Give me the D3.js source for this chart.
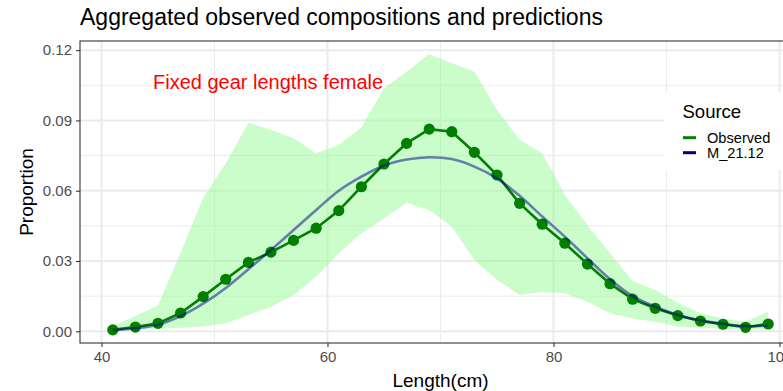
<!DOCTYPE html>
<html><head><meta charset="utf-8">
<script src="https://cdn.jsdelivr.net/npm/d3@7"></script>
<style>html,body{margin:0;padding:0;background:#fff;overflow:hidden}</style>
</head><body>
<script>
const lengths = [41,43,45,47,49,51,53,55,57,59,61,63,65,67,69,71,73,75,77,79,81,83,85,87,89,91,93,95,97,99];
const observed = [0.0006,0.0018,0.0034,0.0078,0.0148,0.0222,0.0294,0.0338,0.0388,0.0440,0.0515,0.0617,0.0714,0.0802,0.0863,0.0852,0.0764,0.0667,0.0546,0.0457,0.0376,0.0287,0.0203,0.0137,0.0098,0.0067,0.0044,0.0030,0.0017,0.0031];
const model = [0.0005,0.0013,0.0028,0.0065,0.0118,0.0185,0.0265,0.0347,0.0432,0.0518,0.0600,0.0660,0.0708,0.0733,0.0743,0.0735,0.0703,0.0653,0.0578,0.0490,0.0404,0.0312,0.0222,0.0150,0.0105,0.0070,0.0047,0.0032,0.0022,0.0025];
const upper = [0.0022,0.0065,0.0110,0.0335,0.0570,0.0717,0.0890,0.0860,0.0824,0.0760,0.0795,0.0871,0.1037,0.1108,0.1184,0.1144,0.1108,0.0945,0.0817,0.0760,0.0582,0.0454,0.0333,0.0215,0.0176,0.0122,0.0077,0.0055,0.0041,0.0084];
const lower = [0.0003,0.0007,0.0010,0.0015,0.0020,0.0034,0.0070,0.0105,0.0155,0.0233,0.0333,0.0418,0.0482,0.0549,0.0518,0.0446,0.0304,0.0219,0.0155,0.0169,0.0162,0.0126,0.0077,0.0055,0.0041,0.0020,0.0015,0.0012,0.0010,0.0010];
const xTicks = [40,60,80,100];
const xMinor = [50,70,90];
const yTicks = [0,0.03,0.06,0.09,0.12];
const yMinor = [0.015,0.045,0.075,0.105];
const legendItems = [{label:"Observed",color:"#007F00"},{label:"M_21.12",color:"#00008B"}];

const W=783,H=391;
const font = "'Liberation Sans', Arial, sans-serif";
const svg = d3.select("body").append("svg").attr("width",W).attr("height",H).style("font-family",font);
const L=80, R=801, T=41, B=343;
const x = d3.scaleLinear().domain([38.1,101.9]).range([L,R]);
const y = d3.scaleLinear().domain([-0.005,0.1239]).range([B,T]);

svg.append("rect").attr("x",L).attr("y",T).attr("width",R-L).attr("height",B-T).attr("fill","#fff");
const grid = svg.append("g");
grid.selectAll(".ym").data(yMinor).join("line").attr("x1",L).attr("x2",R).attr("y1",d=>y(d)).attr("y2",d=>y(d)).attr("stroke","#EBEBEB").attr("stroke-width",1);
grid.selectAll(".xm").data(xMinor).join("line").attr("y1",T).attr("y2",B).attr("x1",d=>x(d)).attr("x2",d=>x(d)).attr("stroke","#EBEBEB").attr("stroke-width",1);
grid.selectAll(".yM").data(yTicks).join("line").attr("x1",L).attr("x2",R).attr("y1",d=>y(d)).attr("y2",d=>y(d)).attr("stroke","#EBEBEB").attr("stroke-width",2);
grid.selectAll(".xM").data(xTicks).join("line").attr("y1",T).attr("y2",B).attr("x1",d=>x(d)).attr("x2",d=>x(d)).attr("stroke","#EBEBEB").attr("stroke-width",2);

const idx = d3.range(lengths.length);
svg.append("path").datum(idx)
  .attr("d", d3.area().x(i=>x(lengths[i])).y0(i=>y(lower[i])).y1(i=>y(upper[i])))
  .attr("fill","#98FB98").attr("fill-opacity",0.5);

svg.append("path").datum(idx)
  .attr("d", d3.line().x(i=>x(lengths[i])).y(i=>y(observed[i])))
  .attr("fill","none").attr("stroke","#007F00").attr("stroke-width",2.6);
svg.append("g").selectAll("circle").data(idx).join("circle")
  .attr("cx",i=>x(lengths[i])).attr("cy",i=>y(observed[i])).attr("r",5.6).attr("fill","#007F00");

svg.append("path").datum(idx)
  .attr("d", d3.line().curve(d3.curveCatmullRom).x(i=>x(lengths[i])).y(i=>y(model[i])))
  .attr("fill","none").attr("stroke","#00008B").attr("stroke-opacity",0.5).attr("stroke-width",2.6);

svg.append("text").attr("x",153).attr("y",89).attr("fill","#FF0000").attr("font-size",20).text("Fixed gear lengths female");

// panel border
svg.append("rect").attr("x",L).attr("y",T).attr("width",R-L).attr("height",B-T).attr("fill","none").attr("stroke","#333333").attr("stroke-width",1.1);

// axes
const xa = svg.append("g").attr("transform",`translate(0,${B})`)
  .call(d3.axisBottom(x).tickValues(xTicks).tickSize(4).tickPadding(4).tickFormat(d3.format("d")));
const ya = svg.append("g").attr("transform",`translate(${L},0)`)
  .call(d3.axisLeft(y).tickValues(yTicks).tickSize(4).tickPadding(4).tickFormat(d3.format(".2f")));
[xa,ya].forEach(a=>{
  a.select(".domain").remove();
  a.selectAll(".tick line").attr("stroke","#333333").attr("stroke-width",1.1);
  a.selectAll(".tick text").attr("fill","#4D4D4D").attr("font-size",15).attr("font-family",font);
});

svg.append("text").attr("x",80).attr("y",25).attr("font-size",23).attr("fill","#000").text("Aggregated observed compositions and predictions");
svg.append("text").attr("transform",`translate(33,${(T+B)/2}) rotate(-90)`).attr("text-anchor","middle").attr("font-size",19).attr("fill","#000").text("Proportion");
svg.append("text").attr("x",(L+R)/2).attr("y",387).attr("text-anchor","middle").attr("font-size",19).attr("fill","#000").text("Length(cm)");

// legend
const lg = svg.append("g");
lg.append("rect").attr("x",664).attr("y",92).attr("width",140).attr("height",78).attr("fill","#fff");
lg.append("text").attr("x",682.5).attr("y",118.3).attr("font-size",18.5).attr("fill","#000").text("Source");
legendItems.forEach((d,i)=>{
  const cy = 137.7 + i*15;
  lg.append("line").attr("x1",683).attr("x2",696).attr("y1",cy).attr("y2",cy).attr("stroke",d.color).attr("stroke-width",3);
  lg.append("text").attr("x",707).attr("y",cy+5.3).attr("font-size",14.6).attr("fill","#000").text(d.label);
});
</script>
</body></html>
